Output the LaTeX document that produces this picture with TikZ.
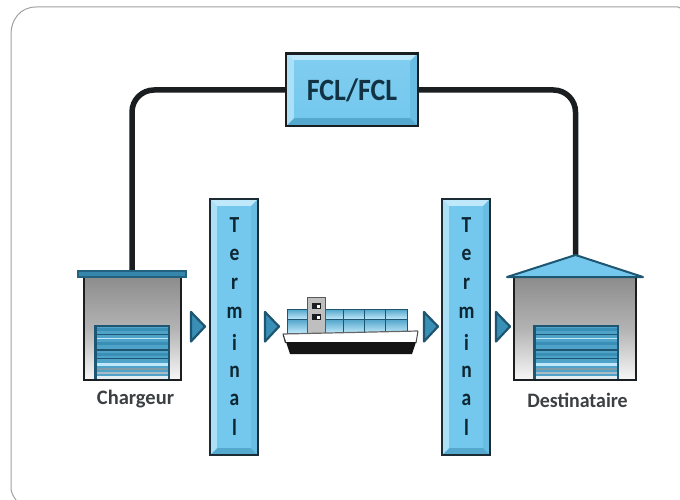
\documentclass[tikz,border=0pt]{standalone}
\usepackage{fontspec}
\setmainfont{Carlito}
\usetikzlibrary{shadings}
\definecolor{lightb}{HTML}{74C8EE}
\definecolor{paleb}{HTML}{BFE8FA}
\definecolor{midb}{HTML}{4FA3C9}
\definecolor{tealb}{HTML}{3A8FB6}
\definecolor{darkb}{HTML}{1E5570}
\definecolor{ink}{HTML}{1A1E20}
\definecolor{framec}{HTML}{A0A0A0}
\definecolor{slatea}{HTML}{7F9CAB}
\definecolor{slateb}{HTML}{A9BCC6}
\definecolor{stripew}{HTML}{E4EEF2}
\tikzset{
  x=1pt,y=-1pt,
  cable/.style={line width=5.5pt,color=ink,rounded corners=22pt},
  lbl/.style={font=\fontsize{20.5}{23}\selectfont\bfseries,text=ink!85!white,inner sep=0pt},
  letter/.style={font=\fontsize{23}{24}\selectfont\bfseries,text=darkb!45!black,inner sep=0pt},
  tri/.style={draw=darkb,line width=2.2pt,fill=tealb,line join=round},
}
\newcommand{\bevel}[5]{% x1,y1,x2,y2,width
  \fill[paleb] (#1,#2) rectangle (#3,#2+#5);
  \fill[midb!85!lightb] (#1,#4-#5) rectangle (#3,#4);
  \fill[paleb!75!lightb] (#1,#2) -- (#1+#5,#2+#5) -- (#1+#5,#4-#5) -- (#1,#4) -- cycle;
  \fill[lightb!70!midb] (#3,#2) -- (#3-#5,#2+#5) -- (#3-#5,#4-#5) -- (#3,#4) -- cycle;
}
\newcommand{\door}[4]{% x1,y1,x2,y2
  \fill[midb] (#1,#2) rectangle (#3,#4);
  \foreach \f/\c/\w in {0.07/tealb/3,0.16/darkb/1.3,0.24/paleb/1.2,0.33/tealb/3.4,0.45/darkb/1.3,0.54/tealb/3,0.62/darkb/1.2,0.72/paleb/3,0.81/slatea/1.6,0.89/slateb/2.4,0.97/stripew/2.4}
    \draw[\c,line width=\w pt] (#1,{#2+\f*(#4-#2)}) -- (#3,{#2+\f*(#4-#2)});
  \draw[darkb,line width=1.4pt] (#1,#2) -- (#3,#2);
  \draw[darkb,line width=3pt] (#1+1,#2) -- (#1+1,#4);
  \draw[darkb,line width=2pt] (#3-1,#2) -- (#3-1,#4);
}
\begin{document}
\begin{tikzpicture}
\useasboundingbox (0,0) rectangle (680,500);
\fill[white] (0,0) rectangle (680,500);
% frame
\draw[framec,line width=1pt] (680,8) -- (678,7) -- (36,7) .. controls (20,7) and (11,20) .. (11,34) -- (11,488) .. controls (11,492) and (13,496) .. (16,500);

% FCL box
\fill[lightb] (286,53) rectangle (418,126);
\bevel{286}{53}{418}{126}{8}
\shade[top color=lightb!85!paleb,bottom color=lightb] (294,61) rectangle (410,118);
\node[minimum width=132pt,minimum height=73pt,inner sep=0pt] (fcl) at (352,89.5) {};
\draw[ink,line width=1.3pt] (286,53) rectangle (418,126);
\draw[ink,line width=3pt] (285,54) -- (419,54);
\draw[ink,line width=2pt] (285,126) -- (419,126);
\node[font=\fontsize{31}{33}\selectfont\bfseries,text=darkb!60!black,inner sep=0pt] (fcltext) at (352,90) {\scalebox{0.9}[1]{FCL/FCL}};

% warehouses anchors
\coordinate (shipTop) at (132,272);
\coordinate (destTop) at (575.5,255);
\draw[cable] (fcl.west |- 0,90) -- (132,90) -- (shipTop);
\draw[cable] (fcl.east |- 0,90) -- (575.5,90) -- (destTop);

% Chargeur
\shade[top color=black!45,bottom color=black!3,middle color=black!30] (84,276) rectangle (181,380);
\draw[ink,line width=1.5pt] (84,276) -- (84,380) -- (181,380) -- (181,276);
\door{94}{326}{170}{379}
\draw[darkb!80!tealb,line width=1.3pt,fill=tealb!85!darkb] (78,271) rectangle (186,277);
\node[lbl] (charg) at (135.5,399) {Chargeur};

% Destinataire
\shade[top color=black!45,bottom color=black!3,middle color=black!30] (514,277) rectangle (636,380);
\draw[ink,line width=1.5pt] (514,277) -- (514,380) -- (636,380) -- (636,277);
\door{533}{326}{619}{379}
\draw[darkb,line width=2pt,fill=lightb,line join=round] (507,277) -- (575.5,255) -- (643,277) -- cycle;
\node[lbl] (dest) at (577.5,400) {\scalebox{0.97}[1]{Destinataire}};

% Terminals
\foreach \xa/\nm in {210/termA,442/termB}{
  \fill[lightb] (\xa,199) rectangle (\xa+48,455);
  \bevel{\xa}{199}{\xa+48}{455}{7}
  \fill[lightb] (\xa+7,206) rectangle (\xa+41,448);
  \node[draw=ink!75!darkb,line width=2pt,minimum width=48pt,minimum height=256pt,inner sep=0pt] (\nm) at (\xa+24,327) {};
  \foreach \ch/\yy in {T/225,e/255,r/284,m/313,i/342,n/372,a/400,l/427}
    \node[letter] at (\xa+24.5,\yy) {\scalebox{0.85}[1]{\ch}};
}

% triangles
\foreach \xx/\nm in {191/triA,265/triB,424/triC,496/triD}
  \draw[tri] (\xx,312) -- (\xx+14,326.5) -- (\xx,341.5) -- cycle;

% ship
\shade[top color=midb,bottom color=paleb] (287,309) rectangle (407,319);
\shade[top color=midb,bottom color=paleb] (287,319) rectangle (407,333);
\draw[darkb,line width=1pt] (287,309) rectangle (407,333);
\draw[darkb,line width=1pt] (287,319) -- (407,319);
\foreach \xx in {343,364,385} \draw[darkb,line width=1pt] (\xx,309) -- (\xx,333);
\fill[black!25] (307,297) rectangle (325,333);
\draw[black!65,line width=1pt] (307,297) rectangle (325,333);
\fill[ink] (312,303) rectangle (321,309);
\fill[ink] (312,314) rectangle (321,320);
\fill[white] (317,304.5) rectangle (320,308);
\fill[white] (317,315.5) rectangle (320,319);
\fill[white] (283,334) -- (418,331) -- (415,342) -- (285,342) -- cycle;
\draw[black!60,line width=1.2pt] (283,334) -- (418,331);
\fill[black!92] (284,336) -- (285.5,342) -- (416,342) -- (412,354) -- (290,354) -- cycle;
\draw[black!80,line width=1pt] (283,334) -- (285.5,343);
\draw[black!70,line width=1pt] (418,331) -- (416,343);
\end{tikzpicture}
\end{document}
